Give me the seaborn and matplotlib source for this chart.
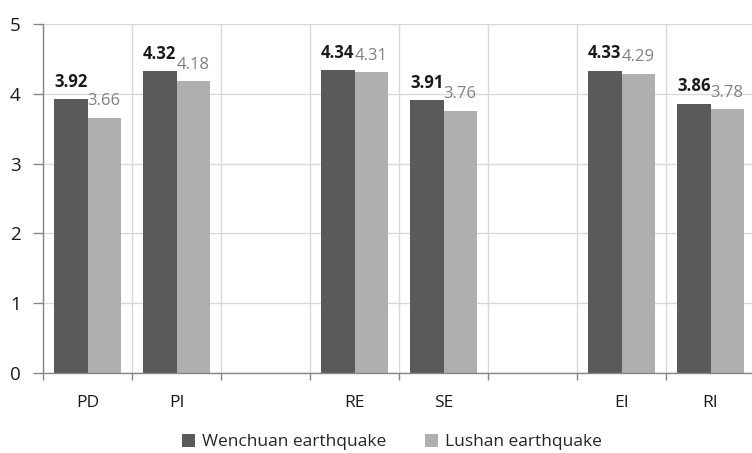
from matplotlib import pyplot as plt
import seaborn as sns
import pandas as pd
import numpy as np

sns.set_theme(style='white')
plt.rcParams['font.family'] = ['Open Sans', 'DejaVu Sans']

# blank slots (' ' and '  ') keep the gaps between the groups
categories = ['PD', 'PI', ' ', 'RE', 'SE', '  ', 'EI', 'RI']
wenchuan = [3.92, 4.32, np.nan, 4.34, 3.91, np.nan, 4.33, 3.86]
lushan = [3.66, 4.18, np.nan, 4.31, 3.76, np.nan, 4.29, 3.78]
series = ['Wenchuan earthquake', 'Lushan earthquake']

df = pd.DataFrame({
    'cat': categories * 2,
    'value': wenchuan + lushan,
    'series': [series[0]] * len(categories) + [series[1]] * len(categories),
})

fig = plt.figure(figsize=(7.52, 4.53), dpi=100)
ax = fig.add_axes([43 / 752, 80 / 453, 712 / 752, 349 / 453])

sns.barplot(data=df, x='cat', y='value', hue='series', order=categories,
            hue_order=series, palette=['#5a5a5a', '#afafaf'], width=0.75,
            saturation=1, edgecolor='none', ax=ax, legend=True)

ax.set_ylim(0, 5)
ax.set_xlim(-0.5, 7.5)
ax.set_yticks(range(6))
ax.set_xticks(np.arange(-0.5, 7.5, 1), minor=True)
ax.grid(True, which='minor', axis='x', color='#d9d9d9', lw=1)
ax.grid(True, which='major', axis='y', color='#d9d9d9', lw=1)
ax.set_axisbelow(True)
ax.set_xlabel('')
ax.set_ylabel('')

for s in ['top', 'right']:
    ax.spines[s].set_visible(False)
for s in ['left', 'bottom']:
    ax.spines[s].set_color('#868686')
    ax.spines[s].set_linewidth(1)

ax.tick_params(axis='y', which='major', left=True, length=7, width=1,
               color='#868686', labelsize=13.5, pad=9, labelcolor='#1a1a1a')
ax.tick_params(axis='x', which='major', bottom=False, labelsize=12.5,
               pad=10, labelcolor='#1a1a1a')
ax.tick_params(axis='x', which='minor', bottom=True, length=5, width=1,
               color='#868686')

label_styles = [dict(fontweight='bold', color='#1a1a1a'), dict(color='#808080')]
for cont, vals, style in zip(ax.containers, [wenchuan, lushan], label_styles):
    shown = [v for v in vals if not np.isnan(v)]
    bars = [b for b in cont if b is not None]
    for bar, v in zip(bars, shown):
        ax.annotate(f'{v:.2f}', (bar.get_x() + bar.get_width() / 2, bar.get_height()),
                    xytext=(0, 6), textcoords='offset points', ha='center',
                    va='bottom', fontsize=12, **style)

ax.get_legend().remove()
handles, labels = ax.get_legend_handles_labels()
fig.legend(handles, labels, loc='center', bbox_to_anchor=(392 / 752, 11 / 453),
           ncol=2, frameon=False, fontsize=12.5, handlelength=0.75,
           handleheight=0.75, handletextpad=0.4, columnspacing=2.2)

plt.savefig('out.png', dpi=100)
